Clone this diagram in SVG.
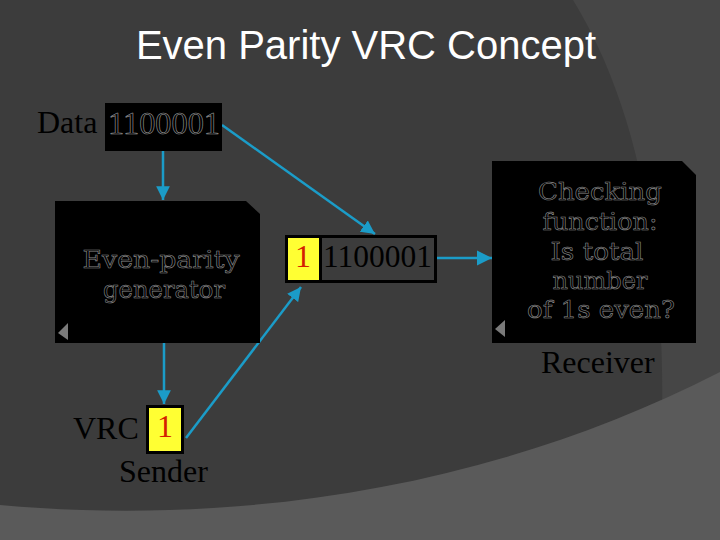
<svg xmlns="http://www.w3.org/2000/svg" width="720" height="540" viewBox="0 0 720 540">
<style>
.title{font-family:"Liberation Sans",Arial,sans-serif;font-size:40px;fill:#fff}
.tm{font-family:"Liberation Serif","Times New Roman",serif;font-size:32px;fill:#000}
.tmo{font-family:"Liberation Serif","Times New Roman",serif;font-size:31px;fill:#000;stroke:#9a9a9a;stroke-width:0.6}
.box{fill:#000}
.slab{font-family:"DejaVu Serif",serif;font-size:25px;fill:#000;stroke:#8c8c8c;stroke-width:0.6;text-anchor:middle}
.red{font-family:"Liberation Serif","Times New Roman",serif;font-size:32px;fill:#d42000}
.conn{stroke:#1b9cc8;stroke-width:2.5;fill:none}
.fold{fill:#7a7a7a}
</style>
<defs>
<marker id="ah" viewBox="0 0 10 10" refX="10" refY="5" markerWidth="5.5" markerHeight="5.5" markerUnits="strokeWidth" orient="auto">
<path d="M0,0 L10,5 L0,10 Z" fill="#1b9cc8"/>
</marker>
<marker id="ahBig" viewBox="0 0 10 10" refX="10" refY="5" markerWidth="6" markerHeight="7" markerUnits="strokeWidth" orient="auto">
<path d="M0,0 L10,5 L0,10 Z" fill="#1b9cc8"/>
</marker>
</defs>
<g id="background">
<rect width="720" height="540" fill="#3c3c3c"/>
<path d="M573,0 C622,80 666,210 662,420 L720,420 L720,0 Z" fill="#464646"/>
<path d="M0,505 C220,525 480,495 720,372 L720,540 L0,540 Z" fill="#5a5a5a"/>
</g>
<text class="title" x="366" y="59" text-anchor="middle">Even Parity VRC Concept</text>
<g id="connectors">
<line class="conn" x1="163" y1="151" x2="163" y2="200" marker-end="url(#ah)"/>
<line class="conn" x1="164" y1="343" x2="164" y2="404" marker-end="url(#ah)"/>
<line class="conn" x1="222" y1="125" x2="375" y2="234" marker-end="url(#ah)"/>
<line class="conn" x1="186" y1="438" x2="301" y2="287" marker-end="url(#ah)"/>
<line class="conn" x1="437" y1="258" x2="492" y2="258" stroke-width="4" marker-end="url(#ahBig)"/>
</g>
<g id="data">
<text class="tm" x="37" y="133">Data</text>
<rect class="box" x="105" y="103" width="117" height="48"/>
<text class="tmo" x="108" y="134" textLength="112" lengthAdjust="spacingAndGlyphs">1100001</text>
</g>
<g id="generator">
<path class="box" d="M55,201 L246,201 L260,214 L260,343 L55,343 Z"/>
<path class="fold" d="M68,323 L58,333 L68,340 Z"/>
<text class="slab" x="161" y="268" textLength="157" lengthAdjust="spacingAndGlyphs">Even-parity</text>
<text class="slab" x="164" y="298" textLength="122" lengthAdjust="spacingAndGlyphs">generator</text>
</g>
<g id="vrc">
<text class="tm" x="73" y="439">VRC</text>
<rect x="147.5" y="406.5" width="35" height="46" fill="#ffff33" stroke="#000" stroke-width="3"/>
<text class="red" x="165" y="437" text-anchor="middle">1</text>
<text class="tm" x="119" y="482">Sender</text>
</g>
<g id="codeword">
<rect x="286.5" y="236.5" width="149" height="45" fill="#3c3c3c" stroke="#000" stroke-width="3"/>
<rect x="288" y="238" width="31" height="42" fill="#ffff33"/>
<line x1="320.5" y1="237" x2="320.5" y2="281" stroke="#000" stroke-width="3"/>
<text class="red" x="303" y="267" text-anchor="middle">1</text>
<text class="tm" x="323" y="267" textLength="109" lengthAdjust="spacingAndGlyphs">1100001</text>
</g>
<g id="checker">
<path class="box" d="M492,161 L682,161 L696,175 L696,343 L492,343 Z"/>
<path class="fold" d="M505,320 L495,329 L505,337 Z"/>
<text class="slab" x="600" y="200" textLength="124" lengthAdjust="spacingAndGlyphs">Checking</text>
<text class="slab" x="600" y="230" textLength="115" lengthAdjust="spacingAndGlyphs">function:</text>
<text class="slab" x="597" y="260" textLength="93" lengthAdjust="spacingAndGlyphs">Is total</text>
<text class="slab" x="600" y="289" textLength="95" lengthAdjust="spacingAndGlyphs">number</text>
<text class="slab" x="601" y="318" textLength="148" lengthAdjust="spacingAndGlyphs">of 1s even?</text>
<text class="tm" x="541" y="373">Receiver</text>
</g>
</svg>
